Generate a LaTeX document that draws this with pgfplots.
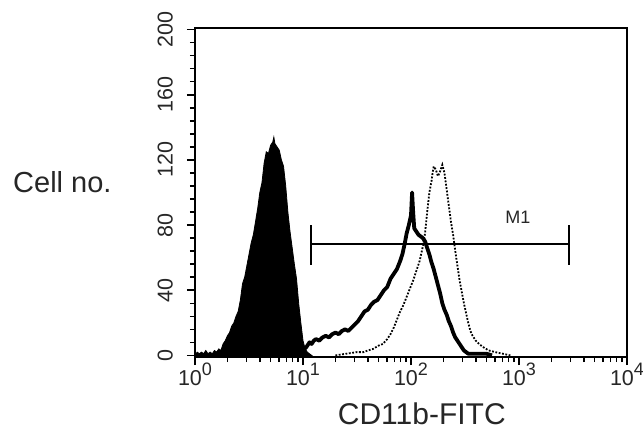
\documentclass[border=0pt]{standalone}
\usepackage{pgfplots}
\pgfplotsset{compat=1.18}
\usepackage{fontspec}
\setmainfont{Liberation Sans}

% decade label with a large exponent
\newcommand{\dec}[1]{10\raisebox{0.42em}{\fontsize{18bp}{18bp}\selectfont #1}}

% fluorescence in decades (log10 of channel intensity), counts per channel
\begin{document}
\begin{tikzpicture}
\path[use as bounding box] (0,0) rectangle (643bp,431bp);
\begin{axis}[
  at={(195bp,74bp)}, anchor=south west,
  scale only axis, width=432bp, height=329bp,
  xmin=0, xmax=4, ymin=-1, ymax=201,
  axis line style={line width=2.3bp},
  /pgf/number format/assume math mode=true,
  xtick={0,1,2,3,4},
  xticklabels={\dec{0},\dec{1},\dec{2},\dec{3},\dec{4}},
  minor xtick={0.301,0.477,0.602,0.699,0.778,0.845,0.903,0.954,
               1.301,1.477,1.602,1.699,1.778,1.845,1.903,1.954,
               2.301,2.477,2.602,2.699,2.778,2.845,2.903,2.954,
               3.301,3.477,3.602,3.699,3.778,3.845,3.903,3.954},
  ytick={0,40,80,120,160,200},
  minor y tick num=4,
  xtick pos=bottom, ytick pos=left,
  tick align=outside,
  major tick length=8bp, minor tick length=5bp,
  tick style={line width=1.6bp, black},
  minor tick style={line width=1.4bp},
  xticklabel style={font=\fontsize{21.5bp}{24bp}\selectfont, anchor=base, inner sep=0pt, text=black!85},
  xticklabel shift=20bp,
  yticklabel style={font=\fontsize{21.5bp}{24bp}\selectfont, rotate=90, anchor=south, inner sep=0pt, text=black!85},
  yticklabel shift=14bp,
  xlabel={CD11b-FITC},
  xlabel style={font=\fontsize{30bp}{34bp}\selectfont, at={(axis description cs:0.525,0)}, anchor=base, yshift=-67bp, text=black!85},
  ylabel={Cell no.},
  ylabel style={font=\fontsize{29bp}{33bp}\selectfont, rotate=-90, at={(axis description cs:-0.185,0.53)}, anchor=east, text=black!85},
  clip=true,
]
% unstained control (filled)
\addplot[fill=black, draw=black, line width=0.8bp] coordinates {
(0.00,0)(0.02,2)(0.04,1)(0.06,2)(0.08,1)(0.10,3)(0.12,1)(0.14,2)(0.16,1)(0.18,3)
(0.20,2)(0.22,4)(0.24,3)(0.26,7)(0.28,9)(0.30,12)(0.32,14)(0.34,18)(0.36,20)(0.38,24)
(0.40,27)(0.42,34)(0.44,44)(0.46,48)(0.48,55)(0.50,62)(0.52,69)(0.54,74)(0.56,82)(0.58,90)
(0.60,100)(0.62,106)(0.64,118)(0.66,125)(0.68,124)(0.70,129)(0.72,131)(0.73,134)(0.74,130)
(0.76,128)(0.78,126)(0.80,120)(0.82,116)(0.84,104)(0.86,88)(0.88,76)(0.90,66)(0.92,56)
(0.94,47)(0.96,32)(0.98,20)(1.00,9)(1.02,4)(1.04,2)(1.06,1)(1.08,0)
} \closedcycle;
% stained sample (thick line)
\addplot[draw=black, line width=3.8bp, line join=round] coordinates {
(1.00,3)(1.03,5)(1.06,8)(1.08,7)(1.10,9)(1.12,10)(1.15,9)(1.18,11)(1.21,12)(1.24,11)
(1.27,13)(1.30,14)(1.33,13)(1.36,15)(1.39,16)(1.42,15)(1.45,17)(1.48,19)(1.51,21)(1.54,24)
(1.57,27)(1.60,28)(1.63,31)(1.66,33)(1.69,34)(1.72,37)(1.75,40)(1.78,42)(1.81,47)(1.84,50)
(1.87,53)(1.90,58)(1.92,62)(1.94,68)(1.96,75)(1.98,80)(2.00,86)(2.01,100)(2.02,88)(2.03,78)
(2.05,76)(2.07,74)(2.09,73)(2.11,72)(2.13,70)(2.15,66)(2.17,62)(2.19,57)(2.21,53)(2.23,48)
(2.25,43)(2.27,38)(2.29,32)(2.31,28)(2.33,25)(2.35,21)(2.37,18)(2.39,14)(2.41,11)(2.43,9)
(2.45,7)(2.47,5)(2.49,3)(2.51,2)(2.53,1)(2.60,1)(2.70,1)(2.75,0)
};
% second sample (dotted line)
\addplot[draw=black, line width=1.8bp, dash pattern=on 1.8bp off 1.6bp] coordinates {
(1.30,0)(1.40,1)(1.50,2)(1.56,2)(1.60,3)(1.65,4)(1.70,6)(1.74,7)(1.78,10)(1.81,13)
(1.84,17)(1.87,22)(1.90,27)(1.93,31)(1.96,36)(1.99,41)(2.02,46)(2.05,52)(2.08,58)(2.11,67)
(2.13,75)(2.15,88)(2.17,100)(2.19,107)(2.20,112)(2.21,116)(2.23,114)(2.25,110)(2.27,113)
(2.29,117)(2.31,112)(2.33,102)(2.35,92)(2.37,82)(2.39,74)(2.41,64)(2.43,55)(2.45,46)
(2.47,39)(2.49,32)(2.51,26)(2.53,20)(2.55,15)(2.57,12)(2.60,9)(2.63,7)(2.67,5)(2.72,3)
(2.78,2)(2.85,1)(2.92,0)
};
% M1 gate
\addplot[draw=black, line width=1.7bp] coordinates {(1.074,68.4)(3.463,68.4)};
\addplot[draw=black, line width=1.7bp] coordinates {(1.074,55.5)(1.074,80)};
\addplot[draw=black, line width=1.7bp] coordinates {(3.463,55.5)(3.463,80)};
\node[font=\fontsize{18bp}{20bp}\selectfont, text=black!85] at (axis cs:2.99,85) {M1};
\end{axis}
\end{tikzpicture}
\end{document}
